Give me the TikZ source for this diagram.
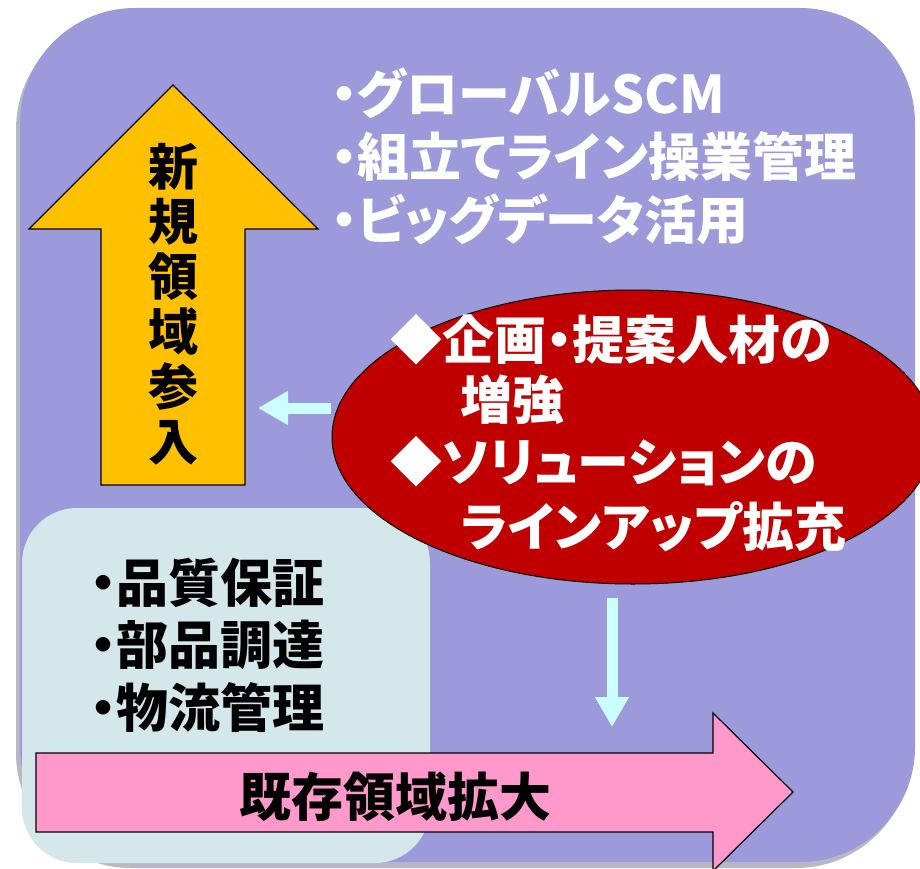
\documentclass[tikz,border=0pt]{standalone}
\usepackage{fontspec}
\usetikzlibrary{arrows.meta,shapes.geometric}
\newfontfamily\cjk{Noto Sans CJK JP}[RawFeature={+palt}]
\definecolor{bgpurple}{HTML}{9C9ADA}
\definecolor{bgshadow}{HTML}{B8B8C4}
\definecolor{boxcyan}{HTML}{D4E7EA}
\definecolor{arrowyellow}{HTML}{FFC000}
\definecolor{arrowpink}{HTML}{FF99CC}
\definecolor{ellred}{HTML}{C00000}
\definecolor{lightcyan}{HTML}{CCFFFF}
\tikzset{
  bigtext/.style={font=\cjk\bfseries\fontsize{52}{62}\selectfont, inner sep=0pt},
  whitetext/.style={bigtext, text=white, anchor=base west},
  blacktext/.style={bigtext, text=black, anchor=base west},
  blockarrow/.style={draw=black, line width=1.2pt, line join=miter},
  thinarrow/.style={draw=lightcyan, line width=11pt, -{Triangle[width=32pt,length=30pt]}}
}
\begin{document}
\begin{tikzpicture}[x=1pt,y=-1pt]
\useasboundingbox (0,0) rectangle (920,869);
\begin{scope}
\clip (0,0) rectangle (920,869);
% background panel
\fill[bgshadow, rounded corners=115pt] (16,14) rectangle (911,868);
\fill[bgpurple, rounded corners=115pt] (20,8) rectangle (915,862);
% yellow up arrow
\path[blockarrow, fill=arrowyellow] (101,485) -- (101,229) -- (29,229) -- (173,85) -- (318,229) -- (245,229) -- (245,485) -- cycle;
\node[bigtext, text=black, align=center, font=\cjk\bfseries\fontsize{50}{55}\selectfont] (newfield) at (173,304) {新\\規\\領\\域\\参\\入};
% light box
\fill[boxcyan, rounded corners=55pt] (22,508) rectangle (430,863);
\node[blacktext] (b1) at (90,602) {・品質保証};
\node[blacktext] (b2) at (90,664) {・部品調達};
\node[blacktext] (b3) at (90,727) {・物流管理};
% pink right arrow
\path[blockarrow, fill=arrowpink] (36,753) -- (713,753) -- (713,713) -- (793,792) -- (713,871) -- (713,832) -- (36,832) -- cycle;
\node[bigtext, text=black] (existing) at (395,797) {既存領域拡大};
% top text
\node[whitetext] (t1) at (331,114) {・グローバルSCM};
\node[whitetext] (t2) at (331,177) {・組立てライン操業管理};
\node[whitetext] (t3) at (331,239) {・ビッグデータ活用};
% ellipse
\node[ellipse, draw=black, line width=1pt, fill=ellred, minimum width=602pt, minimum height=294pt, inner sep=0pt] (ell) at (633,437) {};
\node[whitetext] (e1) at (390,359) {◆企画・提案人材の};
\node[whitetext] (e2) at (460,419) {増強};
\node[whitetext] (e3) at (390,481) {◆ソリューションの};
\node[whitetext] (e4) at (460,546) {ラインアップ拡充};
% light cyan arrows
\coordinate (la) at (331,408);
\coordinate (lb) at (258,408);
\draw[thinarrow] (la) -- (lb);
\coordinate (da) at (612,598);
\coordinate (db) at (612,727);
\draw[thinarrow] (da) -- (db);
\end{scope}
\end{tikzpicture}
\end{document}
